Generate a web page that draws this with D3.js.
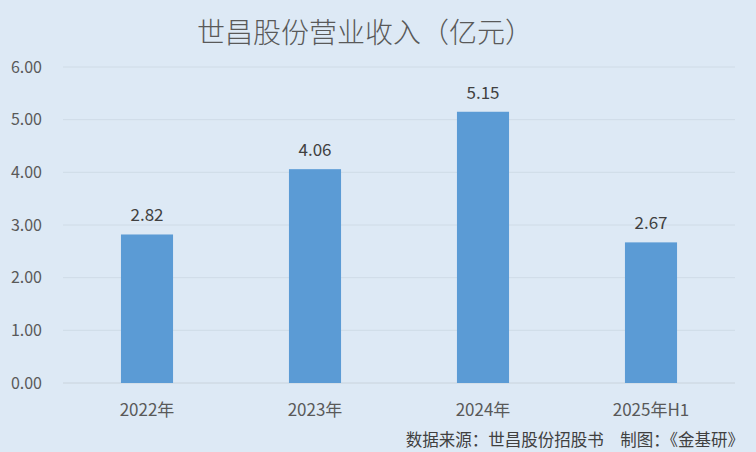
<!DOCTYPE html>
<html><head><meta charset="utf-8">
<script src="https://cdn.jsdelivr.net/npm/d3@7/dist/d3.min.js"></script>
<style>body{margin:0;background:#dde9f5;}svg{display:block;}</style>
</head><body>
<script>
const categories = ["2022年", "2023年", "2024年", "2025年H1"];
const values = [2.82, 4.06, 5.15, 2.67];
const yTicks = [0, 1, 2, 3, 4, 5, 6];
const title = "世昌股份营业收入（亿元）";
const source = "数据来源：世昌股份招股书　制图：《金基研》";

const W = 756, H = 452;
const font = "'Noto Sans CJK SC', 'Microsoft YaHei', sans-serif";
const svg = d3.select("body").append("svg").attr("width", W).attr("height", H);
svg.append("rect").attr("width", W).attr("height", H).attr("fill", "#dde9f5");

const x = d3.scaleBand().domain(categories).range([63, 735]).paddingInner(0.69).paddingOuter(0.345);
const y = d3.scaleLinear().domain([0, 6]).range([383, 67]);

// gridlines
svg.append("g").selectAll("line").data(yTicks).join("line")
  .attr("x1", 63).attr("x2", 735)
  .attr("y1", d => y(d)).attr("y2", d => y(d))
  .attr("stroke", d => d === 0 ? "#c9d3dc" : "#cfdbe6").attr("stroke-width", 1);

// y labels
svg.append("g").selectAll("text").data(yTicks).join("text")
  .attr("x", 42).attr("y", d => y(d)).attr("dy", "0.35em")
  .attr("text-anchor", "end").attr("font-family", font).attr("font-size", 16)
  .attr("fill", "#595959").text(d => d.toFixed(2));

// bars
svg.append("g").selectAll("rect").data(values).join("rect")
  .attr("x", (d, i) => x(categories[i])).attr("width", x.bandwidth())
  .attr("y", d => y(d)).attr("height", d => y(0) - y(d))
  .attr("fill", "#5b9bd5");

// value labels
svg.append("g").selectAll("text").data(values).join("text")
  .attr("x", (d, i) => x(categories[i]) + x.bandwidth() / 2)
  .attr("y", d => y(d) - 13)
  .attr("text-anchor", "middle").attr("font-family", font).attr("font-size", 17)
  .attr("fill", "#404040").text(d => d.toFixed(2));

// x labels
svg.append("g").selectAll("text").data(categories).join("text")
  .attr("x", d => x(d) + x.bandwidth() / 2).attr("y", 416)
  .attr("text-anchor", "middle").attr("font-family", font).attr("font-size", 17)
  .attr("fill", "#595959").text(d => d);

// title
svg.append("text").attr("x", 197).attr("y", 43).attr("text-anchor", "start")
  .attr("font-family", font).attr("font-size", 28).attr("font-weight", 300)
  .attr("fill", "#595959").text(title);

// source
svg.append("text").attr("x", 744).attr("y", 446).attr("text-anchor", "end")
  .attr("font-family", font).attr("font-size", 16.5).attr("fill", "#404040")
  .text(source);
</script>
</body></html>
